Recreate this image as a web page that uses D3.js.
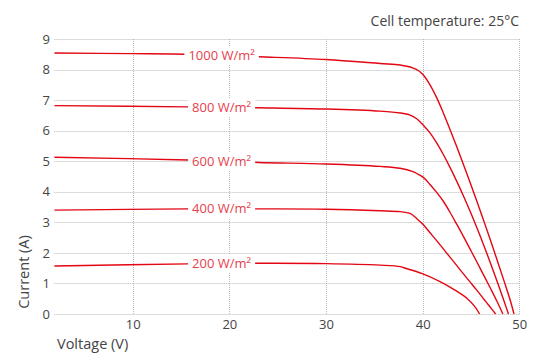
<!DOCTYPE html>
<html>
<head>
<meta charset="utf-8">
<script src="https://cdn.jsdelivr.net/npm/d3@7"></script>
<style>
  html, body { margin: 0; padding: 0; background: #fff; }
  svg { display: block; font-family: "Open Sans", sans-serif; }
</style>
</head>
<body>
<svg id="chart" width="541" height="354"></svg>
<script>
const seriesNames = ["1000 W/m²", "800 W/m²", "600 W/m²", "400 W/m²", "200 W/m²"];

const v1000 = [1.9, 10, 15.7, 23, 30, 35.6, 37.66, 38.5, 39.03, 39.55, 40.07, 40.76, 41.45, 42.14, 42.83, 43.52, 44.2, 44.9, 45.6, 46.3, 47.0, 47.7, 48.4, 49.1, 49.45];
const i1000 = [8.54, 8.52, 8.50, 8.42, 8.33, 8.20, 8.15, 8.10, 8.05, 7.97, 7.82, 7.50, 7.08, 6.58, 6.04, 5.48, 4.91, 4.31, 3.70, 3.07, 2.43, 1.77, 1.10, 0.41, 0];

const v800 = [1.9, 15.7, 23, 30, 35.6, 37.7, 38.7, 39.38, 40.07, 40.76, 41.45, 42.14, 42.83, 43.52, 44.2, 44.9, 45.6, 46.3, 47.0, 47.7, 48.4, 48.88];
const i800 = [6.82, 6.78, 6.75, 6.71, 6.64, 6.58, 6.51, 6.39, 6.18, 5.93, 5.60, 5.22, 4.80, 4.35, 3.88, 3.37, 2.83, 2.27, 1.68, 1.07, 0.44, 0];

const v600 = [1.9, 15.7, 23, 30, 35.6, 37.66, 39.0, 39.5, 40.07, 40.76, 41.45, 42.14, 42.83, 43.52, 44.2, 44.9, 45.6, 46.3, 47.0, 47.7, 48.3];
const i600 = [5.13, 5.04, 4.96, 4.91, 4.83, 4.77, 4.66, 4.58, 4.47, 4.24, 3.98, 3.69, 3.33, 2.94, 2.55, 2.13, 1.71, 1.28, 0.85, 0.41, 0];

const v400 = [1.9, 15.7, 23, 30, 35.6, 37.66, 38.69, 39.4, 40.07, 40.76, 41.45, 42.14, 42.83, 43.52, 44.2, 44.9, 45.6, 46.3, 47.0, 47.55];
const i400 = [3.40, 3.44, 3.44, 3.43, 3.38, 3.35, 3.29, 3.12, 2.92, 2.66, 2.40, 2.13, 1.86, 1.59, 1.32, 1.05, 0.78, 0.50, 0.22, 0];

const v200 = [1.9, 15.7, 23, 30, 35.6, 37.7, 38.3, 39.9, 41.8, 43.3, 44.6, 45.4, 45.9];
const i200 = [1.57, 1.64, 1.66, 1.65, 1.60, 1.55, 1.49, 1.33, 1.06, 0.79, 0.51, 0.24, 0];

const labelVoltage = 19.2;
const xTicks = [10, 20, 30, 40, 50];
const yTicks = [0, 1, 2, 3, 4, 5, 6, 7, 8, 9];

const voltages = [v1000, v800, v600, v400, v200];
const currents = [i1000, i800, i600, i400, i200];

const svg = d3.select("#chart");
const x = d3.scaleLinear().domain([1.9, 50]).range([54.4, 519.3]);
const y = d3.scaleLinear().domain([0, 9]).range([314, 39]);

const gridColor = "#b9b9b9";
svg.append("g").selectAll("line").data(yTicks).join("line")
  .attr("x1", x(1.9)).attr("x2", x(50))
  .attr("y1", d => Math.round(y(d)) + 0.5).attr("y2", d => Math.round(y(d)) + 0.5)
  .attr("stroke", gridColor).attr("stroke-width", 1).attr("stroke-dasharray", "1,1");
svg.append("g").selectAll("line").data(xTicks).join("line")
  .attr("x1", d => Math.round(x(d)) + 0.5).attr("x2", d => Math.round(x(d)) + 0.5)
  .attr("y1", y(9)).attr("y2", y(0))
  .attr("stroke", gridColor).attr("stroke-width", 1).attr("stroke-dasharray", "1,1");

const yAxis = d3.axisLeft(y).tickValues(yTicks).tickSize(0).tickPadding(0).tickFormat(d3.format("d"));
const gy = svg.append("g").attr("transform", `translate(50,0)`).call(yAxis);
gy.select(".domain").remove();
gy.selectAll("text").attr("font-size", 13).attr("fill", "#444").attr("font-family", "Open Sans");

const xAxis = d3.axisBottom(x).tickValues(xTicks).tickSize(0).tickPadding(0).tickFormat(d3.format("d"));
const gx = svg.append("g").attr("transform", `translate(0,320)`).call(xAxis);
gx.select(".domain").remove();
gx.selectAll("text").attr("font-size", 13).attr("fill", "#444").attr("font-family", "Open Sans");

const line = d3.line().x(d => x(d[0])).y(d => y(d[1])).curve(d3.curveCatmullRom.alpha(0.5));
const series = seriesNames.map((name, k) => ({
  name,
  pts: voltages[k].map((v, j) => [v, currents[k][j]])
}));

svg.append("g").selectAll("path").data(series).join("path")
  .attr("d", d => line(d.pts))
  .attr("fill", "none").attr("stroke", "#e30613").attr("stroke-width", 1.4);

const lab = svg.append("g").selectAll("g").data(series).join("g")
  .attr("transform", d => {
    const ys = d3.scaleLinear().domain(d.pts.map(p => p[0])).range(d.pts.map(p => p[1]));
    return `translate(${x(labelVoltage)},${y(ys(labelVoltage))})`;
  });
lab.each(function(d) {
  const g = d3.select(this);
  const t = g.append("text").text(d.name)
    .attr("text-anchor", "middle").attr("dy", "0.35em")
    .attr("font-size", 13).attr("fill", "#e6404d");
  const bb = t.node().getBBox();
  g.insert("rect", "text")
    .attr("x", bb.x - 4).attr("y", -9).attr("width", bb.width + 8).attr("height", 18)
    .attr("fill", "#fff");
});

svg.append("text").attr("x", 519).attr("y", 26).attr("text-anchor", "end")
  .attr("font-size", 14).attr("fill", "#444").text("Cell temperature: 25°C");
svg.append("text").attr("x", 57).attr("y", 349)
  .attr("font-size", 14.5).attr("fill", "#444").text("Voltage (V)");
svg.append("text").attr("transform", "translate(29,272) rotate(-90)").attr("text-anchor", "middle")
  .attr("font-size", 14.5).attr("fill", "#444").text("Current (A)");
</script>
</body>
</html>
